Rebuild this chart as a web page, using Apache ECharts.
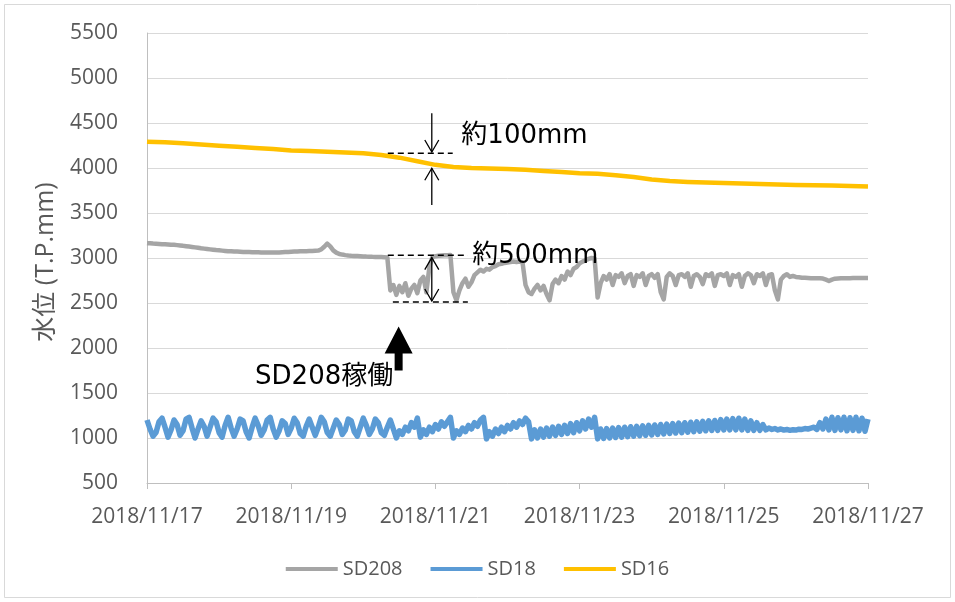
<!DOCTYPE html>
<html>
<head>
<meta charset="utf-8">
<script src="https://cdn.jsdelivr.net/npm/echarts@6/dist/echarts.min.js"></script>
<style>
  html, body { margin: 0; padding: 0; background: #ffffff; }
  #chart { width: 955px; height: 602px; }
</style>
</head>
<body>
<div id="chart"></div>
<script>
// Water level records, 2018/11/17 00:00 - 2018/11/27 00:00
const seriesNames = ['SD208', 'SD18', 'SD16'];
const xTickLabels = ['2018/11/17', '2018/11/19', '2018/11/21', '2018/11/23', '2018/11/25', '2018/11/27'];
const yTickValues = [500, 1000, 1500, 2000, 2500, 3000, 3500, 4000, 4500, 5000, 5500];

// SD208, one reading per hour (mm T.P.)
const sd208Hourly = [
  3165, 3163, 3160, 3158, 3156, 3154, 3152, 3150, 3148, 3146, 3143, 3140,
  3135, 3131, 3127, 3123, 3118, 3113, 3108, 3104, 3100, 3096, 3092, 3088,
  3085, 3082, 3079, 3076, 3074, 3072, 3071, 3070, 3068, 3067, 3066, 3065,
  3064, 3063, 3062, 3061, 3060, 3060, 3060, 3061, 3062, 3064, 3066, 3068,
  3070, 3071, 3072, 3074, 3075, 3076, 3077, 3078, 3080, 3082, 3095, 3125,
  3160, 3130, 3085, 3060, 3045, 3038, 3032, 3028, 3025, 3023, 3022, 3020,
  3018, 3016, 3015, 3013, 3012, 3010, 3010, 3008, 3006, 2640, 2700, 2590,
  2690, 2620, 2720, 2580, 2660, 2700, 2610, 2750, 2790, 2620, 2900, 3010,
  3020, 3025, 3028, 3030, 3030, 3032, 2620, 2530, 2640, 2720, 2770, 2680,
  2730, 2810, 2840, 2870, 2850, 2880, 2870, 2900, 2910, 2930, 2935, 2945,
  2950, 2955, 2960, 2955, 2960, 2950, 2700, 2620, 2600, 2660, 2700, 2640,
  2690, 2600, 2530, 2710, 2760, 2720, 2800, 2760, 2850, 2810, 2880, 2900,
  2940, 2960, 2975, 2990, 3000, 2995, 2560, 2720, 2800, 2760, 2820, 2700,
  2810, 2790, 2830, 2720, 2800, 2820, 2690, 2810, 2790, 2830, 2700, 2800,
  2820, 2780, 2820, 2620, 2540, 2790, 2830, 2800, 2700, 2810, 2820, 2790,
  2830, 2680, 2800, 2820, 2790, 2710, 2820, 2800, 2830, 2690, 2810, 2820,
  2800, 2830, 2700, 2810, 2790, 2820, 2680, 2800, 2830, 2810, 2720, 2820,
  2800, 2830, 2700, 2810, 2820, 2640, 2540, 2760, 2800, 2820, 2790, 2800,
  2790, 2785, 2780, 2780, 2778, 2776, 2775, 2775, 2774, 2772, 2760, 2745,
  2760, 2770, 2772, 2774, 2775, 2776, 2776, 2777, 2778, 2778, 2778, 2778, 2778
];

// SD18, one reading per hour (mm T.P.)
const sd18Hourly = [
  1200, 1100, 1020, 1060, 1180, 1220, 1120, 1010, 1090, 1200,
  1150, 1030, 1080, 1210, 1230, 1110, 1000, 1100, 1190, 1130,
  1020, 1120, 1220, 1180, 1060, 1010, 1140, 1230, 1110, 1020,
  1100, 1210, 1190, 1070, 1000, 1120, 1220, 1140, 1030, 1090,
  1200, 1230, 1100, 1010, 1080, 1190, 1160, 1040, 1110, 1220,
  1170, 1050, 1020, 1130, 1210, 1120, 1030, 1120, 1230, 1180,
  1060, 1020, 1110, 1200, 1150, 1040, 1090, 1210, 1190, 1070,
  1020, 1120, 1220, 1140, 1040, 1100, 1210, 1170, 1060, 1030,
  1120, 1200, 1100,
  1000, 1080, 1040, 1120, 1080, 1170, 1120, 1220,
  1010, 1090, 1040, 1120, 1070, 1150, 1100, 1180, 1130, 1180, 1230,
  1000, 1080, 1040, 1110, 1070, 1140, 1100, 1170, 1130, 1200, 1230,
  990, 1070, 1020, 1100, 1050, 1120, 1070, 1140, 1100, 1170, 1120, 1190, 1150, 1220, 1180,
  990, 1090, 1000, 1100, 1010, 1110, 1020, 1120, 1030, 1130, 1040,
  1140, 1050, 1160, 1060, 1170, 1080, 1190, 1100, 1210, 1120, 1230,
  990, 1100, 995, 1105, 1000, 1110, 1005, 1115, 1010, 1120, 1015, 1125,
  1020, 1130, 1025, 1135, 1030, 1140, 1035, 1145, 1040, 1150, 1045, 1155,
  1050, 1160, 1055, 1165, 1060, 1170, 1065, 1175, 1070, 1180, 1075, 1185,
  1080, 1190, 1085, 1195, 1085, 1205, 1090, 1210, 1090, 1215, 1090, 1220,
  1090, 1210, 1085, 1190, 1085, 1170, 1085, 1150, 1090,
  1110, 1095, 1105, 1090, 1100, 1088, 1095, 1085, 1092, 1088, 1098, 1095, 1105, 1100, 1110,
  1120, 1095, 1170, 1100, 1210,
  1090, 1230, 1085, 1225, 1090, 1230, 1080, 1225, 1085, 1230, 1080, 1220, 1075, 1210
];

// SD16, one reading every 6 hours (mm T.P.)
const sd16SixHourly = [
  4292, 4285, 4275, 4262,
  4248, 4235, 4222, 4210,
  4195, 4188, 4180, 4172,
  4165, 4144, 4115, 4075,
  4035, 4012, 4000, 3995,
  3990, 3980, 3968, 3955,
  3942, 3935, 3920, 3900,
  3872, 3856, 3845, 3838,
  3833, 3828, 3822, 3816,
  3811, 3808, 3805, 3800,
  3795
];

const toSeries = (values, stepHours) => values.map((v, i) => [i * stepHours / 24, v]);

const chart = echarts.init(document.getElementById('chart'), null, { renderer: 'canvas' });

const axisFont = '"Open Sans", "Noto Sans CJK JP", sans-serif';
const noteFont = '"DejaVu Sans", "Noto Sans CJK JP", sans-serif';
const axisGray = '#595959';

chart.setOption({
  animation: false,
  backgroundColor: '#ffffff',
  grid: { left: 147, right: 87, top: 33, bottom: 119, containLabel: false },
  legend: {
    data: seriesNames,
    left: 'center',
    top: 554,
    icon: 'rect',
    itemWidth: 52,
    itemHeight: 4,
    itemGap: 28,
    textStyle: { color: axisGray, fontSize: 20, fontFamily: axisFont }
  },
  xAxis: {
    type: 'value',
    min: 0,
    max: 10,
    interval: 2,
    axisLine: { show: true, onZero: false, lineStyle: { color: '#bfbfbf', width: 1 } },
    axisTick: { show: true, length: 6, lineStyle: { color: '#bfbfbf' } },
    splitLine: { show: false },
    axisLabel: {
      color: axisGray, fontSize: 21, fontFamily: axisFont, margin: 24,
      formatter: v => xTickLabels[Math.round(v / 2)]
    }
  },
  yAxis: {
    type: 'value',
    min: yTickValues[0],
    max: yTickValues[yTickValues.length - 1],
    interval: 500,
    axisLine: { show: true, lineStyle: { color: '#bfbfbf', width: 1 } },
    axisTick: { show: false },
    splitLine: { show: true, lineStyle: { color: '#d9d9d9', width: 1 } },
    axisLabel: { color: axisGray, fontSize: 21, fontFamily: axisFont, margin: 29, formatter: v => String(v) }
  },
  series: [
    {
      name: seriesNames[0], type: 'line', showSymbol: false, symbol: 'none',
      data: toSeries(sd208Hourly, 1),
      lineStyle: { color: '#a5a5a5', width: 4.5, join: 'round' },
      itemStyle: { color: '#a5a5a5' }, z: 2
    },
    {
      name: seriesNames[1], type: 'line', showSymbol: false, symbol: 'none',
      data: toSeries(sd18Hourly, 1),
      lineStyle: { color: '#5b9bd5', width: 5.5, join: 'round' },
      itemStyle: { color: '#5b9bd5' }, z: 3
    },
    {
      name: seriesNames[2], type: 'line', showSymbol: false, symbol: 'none',
      data: toSeries(sd16SixHourly, 6),
      lineStyle: { color: '#ffc000', width: 4.5, join: 'round' },
      itemStyle: { color: '#ffc000' }, z: 4
    }
  ]
});

// Annotations placed in data coordinates (x: days from 11/17, y: mm)
const px = (day, mm) => chart.convertToPixel({ gridIndex: 0 }, [day, mm]);

const dashStyle = { stroke: '#000', lineWidth: 1.5, lineDash: [6, 4] };
const solid = { stroke: '#000', lineWidth: 1.3, fill: null };

function hLine(d0, d1, mm, style) {
  const a = px(d0, mm), b = px(d1, mm);
  return { type: 'line', shape: { x1: a[0], y1: a[1], x2: b[0], y2: a[1] }, style, z: 100 };
}
function arrow(day, fromMm, toMm) {
  const a = px(day, fromMm), b = px(day, toMm);
  const dir = b[1] > a[1] ? -1 : 1;
  return [
    { type: 'line', shape: { x1: a[0], y1: a[1], x2: b[0], y2: b[1] }, style: solid, z: 100 },
    { type: 'polyline', shape: { points: [[b[0] - 7, b[1] + dir * 12], [b[0], b[1]], [b[0] + 7, b[1] + dir * 12]] }, style: solid, z: 100 }
  ];
}
function note(text, day, mm, align) {
  const p = px(day, mm);
  return {
    type: 'text', x: p[0], y: p[1], z: 100,
    style: { text, fill: '#000', font: '26px ' + noteFont, align: align || 'left', verticalAlign: 'middle' }
  };
}

const graphics = [];
// outer frame
graphics.push({ type: 'rect', shape: { x: 4.5, y: 4.5, width: 946, height: 593 }, style: { stroke: '#d9d9d9', fill: null, lineWidth: 1 }, z: -1 });
// axis title
graphics.push({
  type: 'text', x: 46, y: 262, rotation: Math.PI / 2,
  style: { text: '水位 (T.P.mm)', fill: axisGray, font: '25px ' + axisFont, align: 'center', verticalAlign: 'middle' }
});

// about 100 mm drop of SD16
graphics.push(hLine(3.34, 4.24, 4163, dashStyle));
graphics.push(...arrow(3.95, 4608, 4178));
graphics.push(...arrow(3.95, 3589, 3997));
graphics.push(note('約100mm', 4.36, 4350));

// about 500 mm swing of SD208
graphics.push(hLine(3.34, 4.45, 3030, dashStyle));
graphics.push(hLine(3.41, 4.45, 2510, dashStyle));
const dTop = px(3.95, 3005), dBot = px(3.95, 2522);
graphics.push({ type: 'line', shape: { x1: dTop[0], y1: dTop[1], x2: dBot[0], y2: dBot[1] }, style: solid, z: 100 });
graphics.push({ type: 'polyline', shape: { points: [[dTop[0] - 7, dTop[1] + 12], [dTop[0], dTop[1]], [dTop[0] + 7, dTop[1] + 12]] }, style: solid, z: 100 });
graphics.push({ type: 'polyline', shape: { points: [[dBot[0] - 7, dBot[1] - 12], [dBot[0], dBot[1]], [dBot[0] + 7, dBot[1] - 12]] }, style: solid, z: 100 });
graphics.push(note('約500mm', 4.51, 3015));

// SD208 start marker
const tip = px(3.49, 2240);
graphics.push({
  type: 'polygon', z: 100,
  shape: { points: [
    [tip[0], tip[1]], [tip[0] + 14, tip[1] + 27], [tip[0] + 4, tip[1] + 27], [tip[0] + 4, tip[1] + 44],
    [tip[0] - 4, tip[1] + 44], [tip[0] - 4, tip[1] + 27], [tip[0] - 14, tip[1] + 27]
  ] },
  style: { fill: '#000' }
});
graphics.push(note('SD208稼働', 3.415, 1670, 'right'));

chart.setOption({ graphic: graphics });
</script>
</body>
</html>
